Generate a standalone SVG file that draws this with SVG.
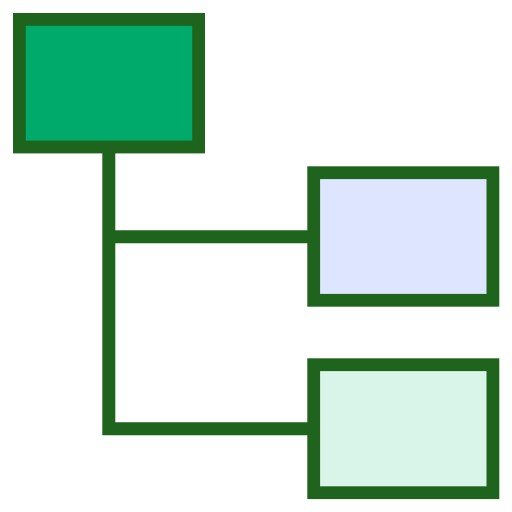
<svg xmlns="http://www.w3.org/2000/svg" width="512" height="512" viewBox="0 0 512 512">
<style>
.n{stroke:#1e641c;stroke-width:12.8}
.c{fill:none;stroke:#1e641c;stroke-width:13;stroke-linejoin:miter}
</style>
<rect width="512" height="512" fill="#ffffff"/>
<g id="connectors">
<path class="c" d="M108.8 150 V428.7 H310"/>
<path class="c" d="M108.8 236.7 H310"/>
</g>
<g id="root"><rect class="n" x="19.4" y="19.4" width="179.2" height="127.6" fill="#00aa6b"/></g>
<g id="child1"><rect class="n" x="313.7" y="172.7" width="179.2" height="127.6" fill="#dde6fe"/></g>
<g id="child2"><rect class="n" x="313.7" y="364.7" width="179.2" height="128" fill="#d9f4e8"/></g>
</svg>
